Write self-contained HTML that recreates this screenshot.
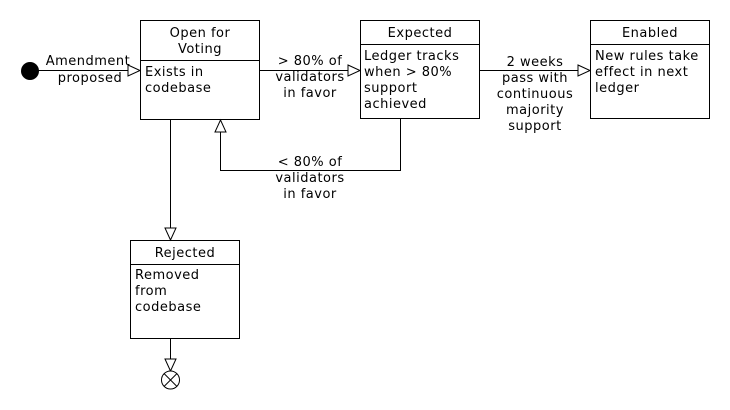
<!DOCTYPE html>
<html><head><style>body{margin:0;background:#fff}svg{display:block}text{font-family:"DejaVu Sans",sans-serif;font-size:13px;fill:#000;letter-spacing:0.5px}</style></head>
<body>
<svg width="730" height="410" viewBox="0 0 730 410" xmlns="http://www.w3.org/2000/svg">
<g fill="#fff" stroke="#000" stroke-width="1">
<rect x="140.5" y="20.5" width="119" height="99"/>
<line x1="140" y1="60.5" x2="260" y2="60.5"/>
<rect x="360.5" y="20.5" width="119" height="98"/>
<line x1="360" y1="44.5" x2="480" y2="44.5"/>
<rect x="590.5" y="20.5" width="119" height="98"/>
<line x1="590" y1="44.5" x2="710" y2="44.5"/>
<rect x="130.5" y="240.5" width="109" height="98"/>
<line x1="130" y1="264.5" x2="240" y2="264.5"/>
<line x1="38" y1="70.5" x2="128" y2="70.5"/>
<polygon points="128,65 140,70.5 128,76"/>
<line x1="260" y1="70.5" x2="348" y2="70.5"/>
<polygon points="348,65 360,70.5 348,76"/>
<line x1="480" y1="70.5" x2="578" y2="70.5"/>
<polygon points="578,65 590,70.5 578,76"/>
<polyline fill="none" points="400.5,119 400.5,170.5 220.5,170.5 220.5,132"/>
<polygon points="215,132 220.5,120 226,132"/>
<line x1="170.5" y1="120" x2="170.5" y2="228"/>
<polygon points="165,228 170.5,240 176,228"/>
<line x1="170.5" y1="339" x2="170.5" y2="359"/>
<polygon points="165,359 170.5,371 176,359"/>
<circle cx="170.5" cy="380" r="9"/>
<line x1="164" y1="373.5" x2="177" y2="386.5"/>
<line x1="177" y1="373.5" x2="164" y2="386.5"/>
</g>
<circle cx="30" cy="71" r="9" fill="#000"/>
<g text-anchor="middle">
<text x="200" y="37">Open for</text><text x="200" y="53">Voting</text>
<text x="420" y="37">Expected</text>
<text x="650" y="37">Enabled</text>
<text x="185" y="257">Rejected</text>
<text x="88" y="65">Amendment</text><text x="90" y="82">proposed</text>
<text x="310" y="65">&gt; 80% of</text><text x="310" y="81">validators</text><text x="310" y="97">in favor</text>
<text x="310" y="166">&lt; 80% of</text><text x="310" y="182">validators</text><text x="310" y="198">in favor</text>
<text x="535" y="66">2 weeks</text><text x="535" y="82">pass with</text><text x="535" y="98">continuous</text><text x="535" y="114">majority</text><text x="535" y="130">support</text>
</g>
<text x="145" y="76">Exists in</text><text x="145" y="92">codebase</text>
<text x="364" y="60">Ledger tracks</text><text x="364" y="76">when &gt; 80%</text><text x="364" y="92">support</text><text x="364" y="108">achieved</text>
<text x="595" y="60">New rules take</text><text x="595" y="76">effect in next</text><text x="595" y="92">ledger</text>
<text x="135" y="279">Removed</text><text x="135" y="295">from</text><text x="135" y="311">codebase</text>
</svg>
</body></html>
